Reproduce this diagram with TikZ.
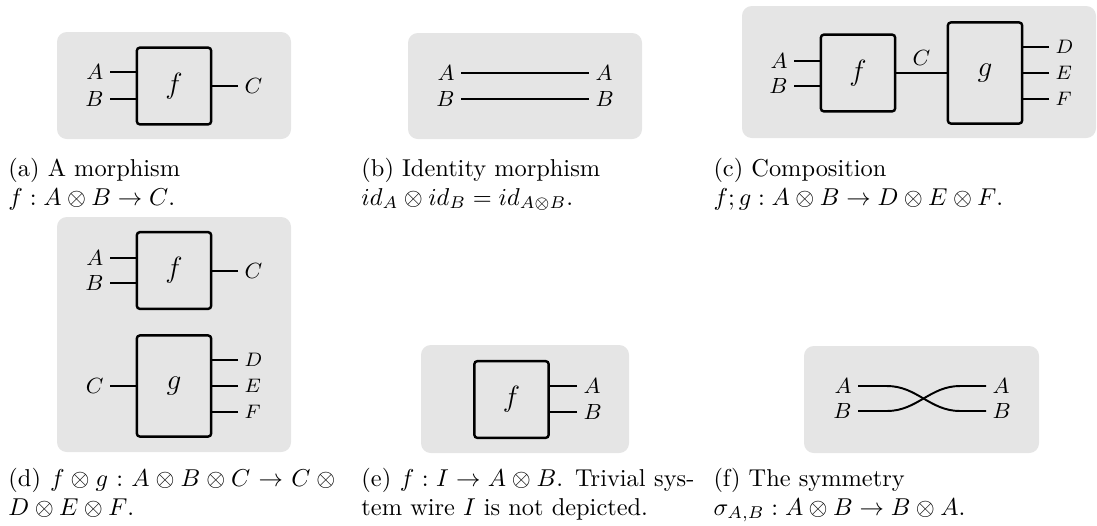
\documentclass[tikz,border=0pt]{standalone}
\usepackage{amsmath,amssymb}
\usepackage{tikz}
\usetikzlibrary{positioning,calc}

\begin{document}
\begin{tikzpicture}[x=0.41pt,y=-0.41pt,
  panel/.style={fill=black!10,rounded corners=4pt},
  morph/.style={draw,line width=1pt,rounded corners=1.3pt,minimum width=30.5pt,minimum height=31.5pt,font=\large,inner sep=0pt},
  tallmorph/.style={morph,minimum height=41.5pt},
  wire/.style={line width=0.8pt},
  lbl/.style={font=\small,inner sep=2.5pt},
  subcap/.style={anchor=base west,text width=136.5pt,align=justify,inner sep=0pt}]
  \useasboundingbox (0,0) rectangle (1097,525);

  % (a) a morphism
  \fill[panel] (57,32) rectangle (291,139);
  \node[morph] (fa) at (174,86) {$f$};
  \foreach \y/\lab in {72/A,99/B}{
    \node[lbl,anchor=east] (fa-\lab) at (110,\y) {$\lab$};
    \draw[wire] (fa-\lab.east) -- (fa-\lab.east -| fa.west);
  }
  \node[lbl,anchor=west] (fa-C) at (238,86) {$C$};
  \draw[wire] (fa-C.west) -- (fa-C.west -| fa.east);
  \node[subcap] (cap-a) at (8,176) {(a) A morphism\\$f : A \otimes B \to C$.};

  % (b) identity
  \fill[panel] (408,33) rectangle (642,139);
  \foreach \y/\lab in {73/A,99/B}{
    \node[lbl,anchor=east] (id-\lab) at (461,\y) {$\lab$};
    \node[lbl,anchor=west] (id-\lab-out) at (589,\y) {$\lab$};
    \draw[wire] (id-\lab) -- (id-\lab-out);
  }
  \node[subcap] (cap-b) at (361,176) {(b) Identity morphism\\$id_A \otimes id_B = id_{A \otimes B}$.};

  % (c) composition
  \fill[panel] (742,6) rectangle (1096,138);
  \node[morph] (fc) at (858,73) {$f$};
  \node[tallmorph] (gc) at (985,73) {$g$};
  \foreach \y/\lab in {61/A,86/B}{
    \node[lbl,anchor=east] (fc-\lab) at (794,\y) {$\lab$};
    \draw[wire] (fc-\lab.east) -- (fc-\lab.east -| fc.west);
  }
  \draw[wire] (fc) -- node[lbl,above] (fc-C) {$C$} (gc);
  \foreach \y/\lab in {47/D,73/E,99/F}{
    \node[lbl,font=\footnotesize,anchor=west] (gc-\lab) at (1049,\y) {$\lab$};
    \draw[wire] (gc-\lab.west) -- (gc-\lab.west -| gc.east);
  }
  \node[subcap] (cap-c) at (713,176) {(c) Composition\\$f;g : A \otimes B \to D \otimes E \otimes F$.};

  % (d) parallel composition
  \fill[panel] (57,217) rectangle (291,452);
  \node[morph] (fd) at (174,270.5) {$f$};
  \node[tallmorph] (gd) at (174,386) {$g$};
  \foreach \y/\lab in {258/A,283/B}{
    \node[lbl,anchor=east] (fd-\lab) at (110,\y) {$\lab$};
    \draw[wire] (fd-\lab.east) -- (fd-\lab.east -| fd.west);
  }
  \node[lbl,anchor=west] (fd-C) at (238,271) {$C$};
  \draw[wire] (fd-C.west) -- (fd-C.west -| fd.east);
  \node[lbl,anchor=east] (gd-C) at (110,386) {$C$};
  \draw[wire] (gd-C.east) -- (gd-C.east -| gd.west);
  \foreach \y/\lab in {360/D,386/E,412/F}{
    \node[lbl,font=\footnotesize,anchor=west] (gd-\lab) at (238,\y) {$\lab$};
    \draw[wire] (gd-\lab.west) -- (gd-\lab.west -| gd.east);
  }
  \node[subcap] (cap-d) at (8,486) {(d) $f \otimes g : A \otimes B \otimes C \to C \otimes{}$\linebreak $D \otimes E \otimes F$.};

  % (e) state
  \fill[panel] (421,345) rectangle (629,453);
  \node[morph] (fe) at (511.5,399.5) {$f$};
  \foreach \y/\lab in {386/A,412/B}{
    \node[lbl,anchor=west] (fe-\lab) at (577,\y) {$\lab$};
    \draw[wire] (fe-\lab.west) -- (fe-\lab.west -| fe.east);
  }
  \node[subcap] (cap-e) at (361,486) {(e) $f : I \to A \otimes B$. Trivial sys-\linebreak tem wire $I$ is not depicted.};

  % (f) symmetry
  \fill[panel] (804,346) rectangle (1039,453);
  \foreach \y/\lab in {386/A,411/B}{
    \node[lbl,anchor=east] (sw-\lab) at (858,\y) {$\lab$};
    \node[lbl,anchor=west] (sw-\lab-out) at (986,\y) {$\lab$};
  }
  \coordinate (sw-a1) at (887,386);
  \coordinate (sw-a2) at (960,411);
  \coordinate (sw-b1) at (887,411);
  \coordinate (sw-b2) at (960,386);
  \draw[wire] (sw-A.east) -- (sw-a1) to[out=0,in=180] (sw-a2) -- (sw-B-out.west);
  \draw[wire] (sw-B.east) -- (sw-b1) to[out=0,in=180] (sw-b2) -- (sw-A-out.west);
  \node[subcap] (cap-f) at (713,486) {(f) The symmetry\\$\sigma_{A,B} : A \otimes B \to B \otimes A$.};
\end{tikzpicture}
\end{document}
